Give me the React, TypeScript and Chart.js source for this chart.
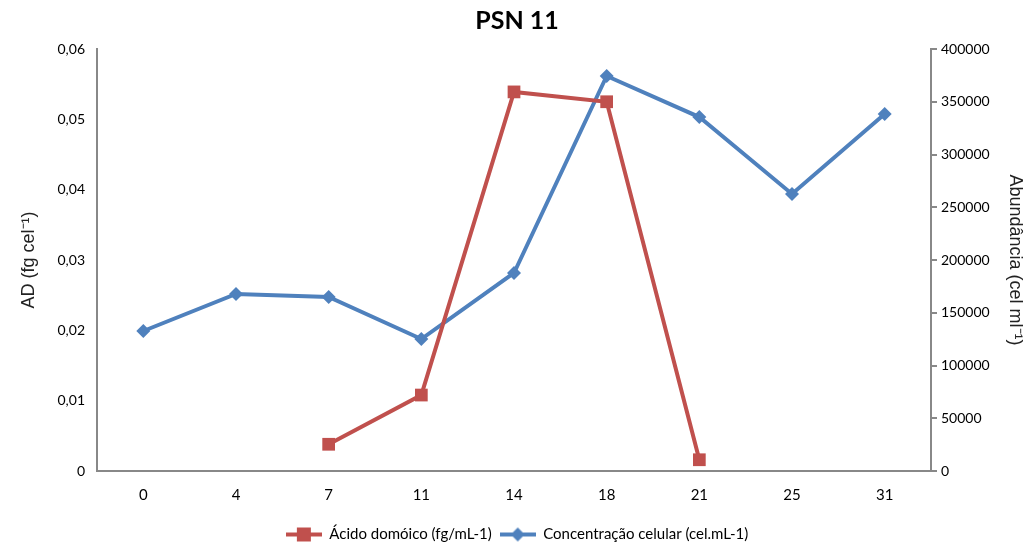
import React, { useEffect, useRef } from "react";
import { Chart, registerables } from "chart.js";

Chart.register(...registerables);

const categories = ["0", "4", "7", "11", "14", "18", "21", "25", "31"];
const acidoDomoico: (number | null)[] = [null, null, 0.0038, 0.0108, 0.0539, 0.0525, 0.0016, null, null];
const concentracaoCelular = [132700, 167800, 164900, 125100, 187700, 374400, 335500, 262600, 338400];

const RED = "#C0504D";
const BLUE = "#4F81BD";
const FONT = "Lato, 'Open Sans', sans-serif";

function legendIcon(color: string, style: "rect" | "diamond"): HTMLCanvasElement {
  const c = document.createElement("canvas");
  c.width = 36;
  c.height = 16;
  const ctx = c.getContext("2d")!;
  ctx.strokeStyle = color;
  ctx.fillStyle = color;
  ctx.lineWidth = 4;
  ctx.beginPath();
  ctx.moveTo(0, 8);
  ctx.lineTo(36, 8);
  ctx.stroke();
  ctx.beginPath();
  if (style === "rect") {
    ctx.rect(11, 1, 14, 14);
  } else {
    ctx.moveTo(18, 1);
    ctx.lineTo(25, 8);
    ctx.lineTo(18, 15);
    ctx.lineTo(11, 8);
    ctx.closePath();
  }
  ctx.fill();
  return c;
}

export default function App() {
  const ref = useRef<HTMLCanvasElement | null>(null);
  useEffect(() => {
    document.body.style.margin = "0";
    const icons = [legendIcon(RED, "rect"), legendIcon(BLUE, "diamond")];
    const chart = new Chart(ref.current!, {
      type: "line",
      data: {
        labels: categories,
        datasets: [
          {
            label: "Ácido domóico (fg/mL-1)",
            data: acidoDomoico,
            borderColor: RED,
            backgroundColor: RED,
            borderWidth: 4,
            pointStyle: "rect",
            pointRadius: 9,
            pointBorderWidth: 0,
            yAxisID: "y",
            spanGaps: false,
          },
          {
            label: "Concentração celular (cel.mL-1)",
            data: concentracaoCelular,
            borderColor: BLUE,
            backgroundColor: BLUE,
            borderWidth: 4,
            pointStyle: "rectRot",
            pointRadius: 7,
            pointBorderWidth: 0,
            yAxisID: "y1",
          },
        ],
      },
      options: {
        animation: false,
        responsive: false,
        layout: { padding: { left: 0, right: 0, top: 0, bottom: 0 } },
        plugins: {
          title: {
            display: true,
            text: "PSN 11",
            font: { family: FONT, size: 25, weight: "bold" },
            color: "#000",
            padding: { top: 6, bottom: 13 },
          },
          legend: {
            position: "bottom",
            labels: {
              usePointStyle: true,
              pointStyleWidth: 36,
              font: { family: FONT, size: 15 },
              color: "#000",
              padding: 8,
              generateLabels: (ch: any) =>
                ch.data.datasets.map((ds: any, i: number) => ({
                  text: ds.label,
                  pointStyle: icons[i],
                  fillStyle: ds.borderColor,
                  strokeStyle: ds.borderColor,
                  lineWidth: 0,
                  hidden: false,
                  datasetIndex: i,
                  fontColor: "#000",
                })),
            },
          },
          tooltip: { enabled: false },
        },
        scales: {
          x: {
            offset: true,
            grid: { display: false, drawTicks: false },
            border: { display: true, color: "#888", width: 2 },
            ticks: { font: { family: FONT, size: 15 }, color: "#000", padding: 15 },
          },
          y: {
            position: "left",
            min: 0,
            max: 0.06,
            afterFit: (s: any) => {
              s.width = 97;
            },
            grid: { display: false, drawTicks: false },
            border: { display: true, color: "#888", width: 2 },
            ticks: {
              stepSize: 0.01,
              font: { family: FONT, size: 14 },
              color: "#000",
              padding: 12,
              callback: (v: any) => (v === 0 ? "0" : Number(v).toFixed(2).replace(".", ",")),
            },
            title: {
              display: true,
              text: "AD (fg cel⁻¹)",
              font: { family: "'Liberation Sans', Arial, sans-serif", size: 18 },
              color: "#222",
              padding: { top: 18, bottom: 6 },
            },
          },
          y1: {
            position: "right",
            min: 0,
            max: 400000,
            afterFit: (s: any) => {
              s.width = 103;
            },
            grid: { display: true, drawOnChartArea: false, drawTicks: true, tickLength: 6, color: "#888", lineWidth: 2 },
            border: { display: true, color: "#888", width: 2 },
            ticks: {
              stepSize: 50000,
              font: { family: FONT, size: 14 },
              color: "#000",
              padding: 4,
              callback: (v: any) => String(v),
            },
            title: {
              display: true,
              text: "Abundância (cel ml⁻¹)",
              font: { family: "'Liberation Sans', Arial, sans-serif", size: 18 },
              color: "#222",
              padding: { top: 8, bottom: 4 },
            },
          },
        },
      },
    });
    return () => chart.destroy();
  }, []);
  return (
    <div style={{ width: 1034, height: 552, position: "relative", background: "#fff" }}>
      <canvas ref={ref} width={1034} height={552} style={{ display: "block" }} />
    </div>
  );
}
